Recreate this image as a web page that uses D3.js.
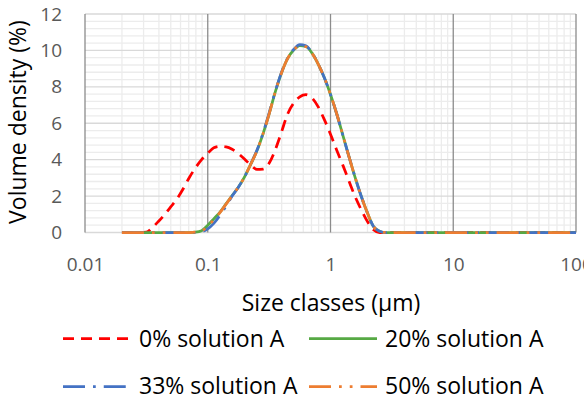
<!DOCTYPE html>
<html>
<head>
<meta charset="utf-8">
<script src="https://cdn.jsdelivr.net/npm/d3@7"></script>
<style>
  html, body { margin: 0; padding: 0; background: #fff; }
  svg { display: block; font-family: "Open Sans", "Noto Sans", sans-serif; }
</style>
</head>
<body>
<svg id="chart" width="584" height="399"></svg>
<script>
// Particle size classes (µm)
const sizes = [0.02, 0.0251, 0.0282,
  0.0316, 0.0355, 0.0398, 0.0447, 0.0501, 0.0562, 0.0631, 0.0708, 0.0794, 0.0891,
  0.1, 0.112, 0.126, 0.141, 0.158, 0.178, 0.2, 0.224, 0.251, 0.282,
  0.316, 0.355, 0.398, 0.447, 0.501, 0.562, 0.631, 0.708, 0.794, 0.891,
  1, 1.12, 1.26, 1.41, 1.58, 1.78, 2, 2.24, 2.51, 2.82,
  3.16, 3.98, 5.01, 6.31, 7.94, 10,
  15.8, 25.1, 39.8, 63.1, 100];

// Volume density (%) for each formulation
const sol0 = [0, 0, 0,
  0.02, 0.28, 0.62, 1.0, 1.42, 1.85, 2.4, 3.02, 3.55, 4.0,
  4.35, 4.65, 4.73, 4.7, 4.57, 4.33, 4.02, 3.7, 3.47, 3.48,
  3.8, 4.55, 5.5, 6.5, 7.1, 7.45, 7.57, 7.38, 6.9, 6.2,
  5.4, 4.55, 3.7, 2.85, 2.0, 1.25, 0.6, 0.15, 0, 0,
  0, 0, 0, 0, 0, 0,
  0, 0, 0, 0, 0];
const sol20 = [0, 0, 0,
  0, 0, 0, 0, 0, 0, 0, 0, 0.02, 0.1,
  0.4, 0.75, 1.12, 1.57, 2.03, 2.5, 3.07, 3.75, 4.47, 5.42,
  6.5, 7.72, 8.75, 9.55, 10.02, 10.27, 10.22, 9.85, 9.25, 8.5,
  7.58, 6.55, 5.35, 4.2, 3.07, 1.99, 1.07, 0.33, 0.07, 0,
  0, 0, 0, 0, 0, 0,
  0, 0, 0, 0, 0];
const sol33 = [0, 0, 0,
  0, 0, 0, 0, 0, 0, 0, 0, 0.01, 0.05,
  0.2, 0.5, 0.95, 1.45, 2.0, 2.5, 3.07, 3.76, 4.5, 5.45,
  6.55, 7.75, 8.78, 9.58, 10.05, 10.32, 10.25, 9.87, 9.25, 8.5,
  7.58, 6.55, 5.35, 4.2, 3.07, 1.99, 1.07, 0.33, 0.07, 0,
  0, 0, 0, 0, 0, 0,
  0, 0, 0, 0, 0];
const sol50 = [0, 0, 0,
  0, 0, 0, 0, 0, 0, 0, 0, 0.02, 0.08,
  0.35, 0.7, 1.1, 1.56, 2.02, 2.5, 3.07, 3.75, 4.47, 5.42,
  6.5, 7.72, 8.75, 9.55, 10.02, 10.25, 10.2, 9.84, 9.25, 8.5,
  7.58, 6.55, 5.35, 4.2, 3.07, 1.99, 1.07, 0.33, 0.07, 0,
  0, 0, 0, 0, 0, 0,
  0, 0, 0, 0, 0];

const seriesNames = ["0% solution A", "20% solution A", "33% solution A", "50% solution A"];
const seriesValues = [sol0, sol20, sol33, sol50];
const seriesColors = ["#FF0000", "#56A944", "#4472C4", "#ED7D31"];
const seriesDashes = ["11,7", null, "22,8,2.75,8", "22,8,2.75,8,2.75,8"];

const xTicks = [0.01, 0.1, 1, 10, 100];
const yTicks = [0, 2, 4, 6, 8, 10, 12];

const svg = d3.select("#chart");
const plot = { left: 85, right: 576, top: 14, bottom: 232.5 };

const x = d3.scaleLog().domain([0.01, 100]).range([plot.left, plot.right]);
const y = d3.scaleLinear().domain([0, 12]).range([plot.bottom, plot.top]);

// Grid: minor verticals at 2..9 of each decade, minor horizontals every 0.4
const grid = svg.append("g");
const minorX = [];
for (let e = -2; e < 2; e++) for (let k = 2; k <= 9; k++) minorX.push(k * Math.pow(10, e));
grid.selectAll("line.mx").data(minorX).join("line")
  .attr("x1", d => x(d)).attr("x2", d => x(d))
  .attr("y1", plot.top).attr("y2", plot.bottom)
  .attr("stroke", "#ececec").attr("stroke-width", 1.3);
const minorY = d3.range(0.4, 12, 0.4).filter(v => Math.abs(v / 2 - Math.round(v / 2)) > 0.01);
grid.selectAll("line.my").data(minorY).join("line")
  .attr("x1", plot.left).attr("x2", plot.right)
  .attr("y1", d => y(d)).attr("y2", d => y(d))
  .attr("stroke", "#ececec").attr("stroke-width", 1.3);
grid.selectAll("line.My").data(yTicks).join("line")
  .attr("x1", plot.left).attr("x2", plot.right)
  .attr("y1", d => y(d)).attr("y2", d => y(d))
  .attr("stroke", "#d9d9d9").attr("stroke-width", 1.3);
grid.selectAll("line.Mx").data(xTicks).join("line")
  .attr("x1", d => x(d)).attr("x2", d => x(d))
  .attr("y1", plot.top).attr("y2", plot.bottom)
  .attr("stroke", "#8c8c8c").attr("stroke-width", 1.3);

// Axes
const yAxis = svg.append("g").attr("transform", `translate(${plot.left},0)`)
  .call(d3.axisLeft(y).tickValues(yTicks).tickSize(0).tickPadding(23));
const xAxis = svg.append("g").attr("transform", `translate(0,${plot.bottom})`)
  .call(d3.axisBottom(x).tickValues(xTicks).tickSize(0).tickPadding(25)
    .tickFormat(d => String(d)));
[xAxis, yAxis].forEach(a => {
  a.select(".domain").remove();
  a.selectAll("text").attr("fill", "#595959")
    .style("font-family", "'Open Sans', sans-serif").style("font-size", "19px");
});

// Series lines
const line = d3.line()
  .x(d => x(d[0])).y(d => y(d[1]))
  .curve(d3.curveMonotoneX);
seriesValues.forEach((vals, i) => {
  svg.append("path")
    .datum(sizes.map((s, j) => [s, vals[j]]))
    .attr("d", line)
    .attr("fill", "none")
    .attr("stroke", seriesColors[i])
    .attr("stroke-width", 2.75)
    .attr("stroke-linejoin", "round")
    .attr("stroke-dasharray", seriesDashes[i]);
});

// Axis titles
svg.append("text")
  .attr("x", 331).attr("y", 311)
  .attr("text-anchor", "middle")
  .attr("fill", "#000").style("font-size", "23px")
  .text("Size classes (µm)");
svg.append("text")
  .attr("transform", "translate(26,122) rotate(-90)")
  .attr("text-anchor", "middle")
  .attr("fill", "#000").style("font-size", "23px")
  .text("Volume density (%)");

// Legend
const legendPos = [
  { lx: 63, tx: 139, ly: 338.5, ty: 346.5 },
  { lx: 309, tx: 385, ly: 338.5, ty: 346.5 },
  { lx: 63, tx: 139, ly: 386.5, ty: 394 },
  { lx: 309, tx: 385, ly: 386.5, ty: 394 }
];
const legend = svg.append("g");
seriesNames.forEach((name, i) => {
  const p = legendPos[i];
  legend.append("line")
    .attr("x1", p.lx).attr("x2", p.lx + 68)
    .attr("y1", p.ly).attr("y2", p.ly)
    .attr("stroke", seriesColors[i]).attr("stroke-width", 2.75)
    .attr("stroke-dasharray", seriesDashes[i]);
  legend.append("text")
    .attr("x", p.tx).attr("y", p.ty)
    .attr("fill", "#000").style("font-size", "23px")
    .text(name);
});
</script>
</body>
</html>
